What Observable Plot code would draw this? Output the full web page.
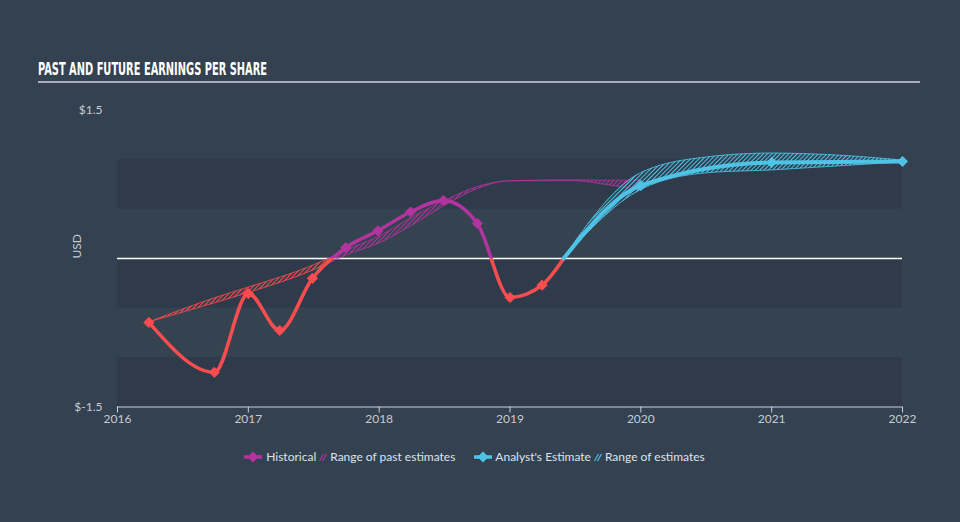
<!DOCTYPE html>
<html>
<head>
<meta charset="utf-8">
<script src="https://cdn.jsdelivr.net/npm/d3@7"></script>
<script src="https://cdn.jsdelivr.net/npm/@observablehq/plot@0.6"></script>
<style>
  html, body { margin: 0; padding: 0; background: #344150; }
  #wrap { position: relative; width: 960px; height: 522px; background: #344150; overflow: hidden; }
  #wrap > svg { position: absolute; left: 0; top: 0; }
  #title { position: absolute; left: 38px; top: 60px; font-family: "DejaVu Sans Condensed", "DejaVu Sans", sans-serif; font-stretch: condensed; font-weight: bold; font-size: 18px; line-height: 18px; color: #ffffff; white-space: nowrap; transform-origin: 0 0; }
  #rule { position: absolute; left: 38px; top: 81px; width: 882px; height: 2px; background: #a7b0ba; }
  #legend { position: absolute; left: 0; width: 949px; top: 449px; display: flex; justify-content: center; align-items: center; font-family: Lato, "Open Sans", sans-serif; font-size: 12px; line-height: 16px; color: #dfe3e8; white-space: nowrap; }
  #legend svg { display: block; }
</style>
</head>
<body>
<div id="wrap">
  <div id="title">PAST AND FUTURE EARNINGS PER SHARE</div>
  <div id="rule"></div>
  <div id="legend"></div>
</div>
<script>
// ---- data ----
const histYears = [2016.24, 2016.74, 2017.0, 2017.24, 2017.49, 2017.745, 2017.99, 2018.24, 2018.49, 2018.75, 2019.0, 2019.245];
const histEps   = [-0.646, -1.15, -0.354, -0.727, -0.20, 0.11, 0.28, 0.47, 0.586, 0.354, -0.394, -0.27];
const crossYear = 2019.41;
const crossEps = 0;

const fcYears = [2020.0, 2021.0, 2022.0];
const fcEps   = [0.737, 0.97, 0.98];

const fcRangeYears = [2019.41, 2020.0, 2020.5, 2021.0, 2021.5, 2022.0];
const fcRangeLow   = [0, 0.69, 0.86, 0.89, 0.93, 0.97];
const fcRangeHigh  = [0, 0.86, 1.02, 1.06, 1.04, 0.99];

const pastRangeYears = [2016.24, 2016.75, 2017.0, 2017.5, 2017.62, 2017.75, 2018.0, 2018.25, 2018.5, 2018.75, 2019.0, 2019.5, 2019.75, 2020.0];
const pastRangeLow   = [-0.646, -0.45, -0.35, -0.12, -0.05, 0.03, 0.15, 0.33, 0.53, 0.70, 0.78, 0.78, 0.74, 0.69];
const pastRangeHigh  = [-0.646, -0.40, -0.295, -0.07, 0.0, 0.08, 0.22, 0.41, 0.58, 0.72, 0.78, 0.79, 0.785, 0.79];
const pastSplitYear = 2017.62;

const xTicks = [2016, 2017, 2018, 2019, 2020, 2021, 2022];
const yTicks = [-1.5, 1.5];
const bandLevels = [[-1.5, -1, "dark"], [-1, -0.5, "mid"], [-0.5, 0, "dark"], [0, 0.5, "mid"], [0.5, 1, "dark"]];

const legendLabels = ["Historical", "Range of past estimates", "Analyst's Estimate", "Range of estimates"];

// ---- colours ----
const RED = "#fb4c4f", PURPLE = "#b2349f", BLUE = "#4fc3e6";
const DARK = "#2f3b4a", MID = "#35424f";

const histData = histYears.map((x, i) => ({x, y: histEps[i]}));
const crossPt = {x: crossYear, y: crossEps};
const lineData = [...histData, crossPt];
const fcPts = fcYears.map((x, i) => ({x, y: fcEps[i]}));
const fcLine = [crossPt, ...fcPts];
const fcRange = fcRangeYears.map((x, i) => ({x, lo: fcRangeLow[i], hi: fcRangeHigh[i]}));
const pastRange = pastRangeYears.map((x, i) => ({x, lo: pastRangeLow[i], hi: pastRangeHigh[i]}));
const pastNeg = pastRange.filter(d => d.x <= pastSplitYear);
const pastPos = pastRange.filter(d => d.x >= pastSplitYear);
const bands = bandLevels.map(([y1, y2, k]) => ({y1, y2, k}));

const svg = Plot.plot({
  width: 960,
  height: 522,
  marginLeft: 117,
  marginRight: 58,
  marginTop: 109.5,
  marginBottom: 115.5,
  style: {background: "transparent", color: "#c6ccd3", fontFamily: "Lato, 'Open Sans', sans-serif", fontSize: "12px"},
  x: {domain: [2016, 2022]},
  y: {domain: [-1.5, 1.5]},
  marks: [
    Plot.rect(bands, {y1: "y1", y2: "y2", fill: d => d.k === "dark" ? DARK : MID}),
    Plot.ruleY([0], {stroke: "#ffffff", strokeWidth: 1.5}),
    Plot.areaY(pastNeg, {x: "x", y1: "lo", y2: "hi", fill: "url(#hatchRed)", stroke: RED, strokeWidth: 0.8, curve: "monotone-x"}),
    Plot.areaY(pastPos, {x: "x", y1: "lo", y2: "hi", fill: "url(#hatchPurple)", stroke: PURPLE, strokeWidth: 0.8, curve: "monotone-x"}),
    Plot.areaY(fcRange, {x: "x", y1: "lo", y2: "hi", fill: "url(#hatchBlue)", stroke: BLUE, strokeWidth: 1, strokeDasharray: "2,1", curve: "monotone-x"}),
    Plot.line(lineData, {x: "x", y: "y", stroke: "url(#histGrad)", strokeWidth: 3.5, curve: "monotone-x"}),
    Plot.line(fcLine, {x: "x", y: "y", stroke: BLUE, strokeWidth: 4, curve: "monotone-x"}),
    Plot.dot(histData, {filter: d => d.y < 0, x: "x", y: "y", symbol: "diamond2", r: 4.6, fill: RED, stroke: RED, strokeWidth: 1}),
    Plot.dot(histData, {filter: d => d.y >= 0, x: "x", y: "y", symbol: "diamond2", r: 4.6, fill: PURPLE, stroke: PURPLE, strokeWidth: 1}),
    Plot.dot(fcPts, {x: "x", y: "y", symbol: "diamond2", r: 4.6, fill: BLUE, stroke: BLUE, strokeWidth: 1}),
    Plot.ruleY([-1.5], {stroke: "#c9d0d8", strokeWidth: 1}),
    Plot.axisX({ticks: xTicks, tickFormat: d => String(d), tickSize: 6, tickPadding: 1, stroke: "#c9d0d8", fill: "#c6ccd3", label: null}),
    Plot.axisY({ticks: yTicks, tickFormat: d => "$" + d, tickSize: 0, tickPadding: 15, fill: "#c6ccd3", label: null}),
    Plot.text(["USD"], {frameAnchor: "left", dx: -40, rotate: -90, fill: "#c6ccd3", fontSize: 12})
  ]
});

// defs: hatch patterns and the sign gradient for the historical line
const ys = svg.scale("y");
const yTop = ys.apply(1.5), yBot = ys.apply(-1.5), yZero = ys.apply(0);
const off = (yZero - yTop) / (yBot - yTop);
const defs = document.createElementNS("http://www.w3.org/2000/svg", "defs");
const hatch = (id, c) => `<pattern id="${id}" patternUnits="userSpaceOnUse" width="3" height="3" patternTransform="rotate(45)"><line x1="0.5" y1="0" x2="0.5" y2="3" stroke="${c}" stroke-width="1.1"/></pattern>`;
defs.innerHTML = hatch("hatchRed", RED) + hatch("hatchPurple", PURPLE) + hatch("hatchBlue", BLUE) +
  `<linearGradient id="histGrad" gradientUnits="userSpaceOnUse" x1="0" x2="0" y1="${yTop}" y2="${yBot}">
     <stop offset="0" stop-color="${PURPLE}"/><stop offset="${off}" stop-color="${PURPLE}"/>
     <stop offset="${off}" stop-color="${RED}"/><stop offset="1" stop-color="${RED}"/>
   </linearGradient>`;
svg.prepend(defs);
document.getElementById("wrap").prepend(svg);

// fit the condensed title to the reference width
const title = document.getElementById("title");
const tw = title.getBoundingClientRect().width;
title.style.transform = `scaleX(${229 / tw})`;

// legend
const lineIcon = c => `<svg width="18" height="12"><line x1="0" y1="6" x2="18" y2="6" stroke="${c}" stroke-width="3.5"/><path d="M9 0.5 L14.5 6 L9 11.5 L3.5 6Z" fill="${c}"/></svg>`;
const hatchIcon = c => `<svg width="8" height="12"><line x1="0.5" y1="10" x2="4.5" y2="3" stroke="${c}" stroke-width="1.2"/><line x1="3.5" y1="10" x2="7.5" y2="3" stroke="${c}" stroke-width="1.2"/></svg>`;
const legendParts = [
  {html: lineIcon(PURPLE), gap: 4},
  {text: legendLabels[0], gap: 3},
  {html: hatchIcon(PURPLE), gap: 3},
  {text: legendLabels[1], gap: 19},
  {html: lineIcon(BLUE), gap: 3},
  {text: legendLabels[2], gap: 3},
  {html: hatchIcon(BLUE), gap: 3},
  {text: legendLabels[3], gap: 0}
];
const lg = document.getElementById("legend");
for (const it of legendParts) {
  const s = document.createElement("span");
  s.style.marginRight = it.gap + "px";
  if (it.text) s.textContent = it.text; else s.innerHTML = it.html;
  lg.appendChild(s);
}
</script>
</body>
</html>
